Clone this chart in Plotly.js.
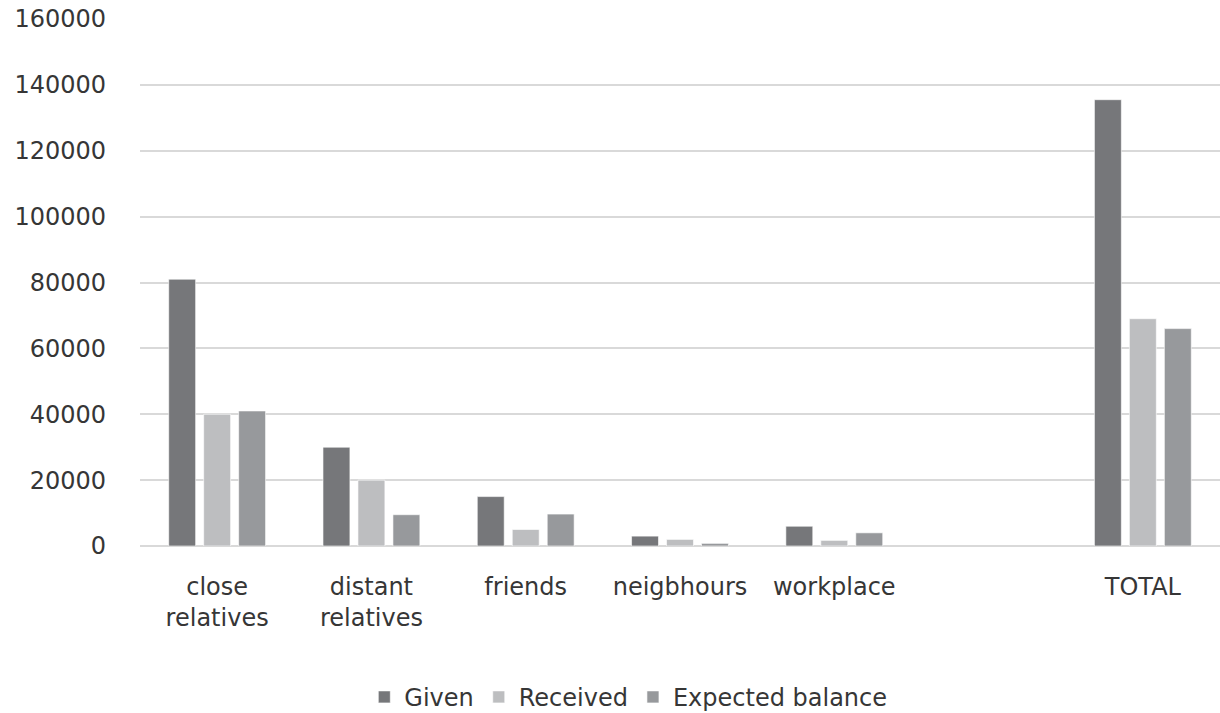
<!DOCTYPE html>
<html>
<head>
<meta charset="utf-8">
<script src="https://cdn.plot.ly/plotly-3.0.1.min.js"></script>
<style>html,body{margin:0;padding:0;background:#fff;}#chart{width:1220px;height:713px;}</style>
</head>
<body>
<div id="chart"></div>
<script>
const categories = ["close<br>relatives", "distant<br>relatives", "friends", "neigbhours", "workplace", " ", "TOTAL"];
const given = [81000, 30000, 15000, 3000, 6000, null, 135500];
const received = [40000, 20000, 5000, 2000, 1700, null, 69000];
const expectedBalance = [41000, 9500, 9700, 800, 4000, null, 66000];
const yTicks = [0, 20000, 40000, 60000, 80000, 100000, 120000, 140000, 160000];

const font = {family: "DejaVu Sans, sans-serif", size: 24, color: "#363636"};
function series(name, y, color) {
  return {type: "bar", name: name, x: categories, y: y,
    marker: {color: color, line: {color: "rgba(255,255,255,0.6)", width: 1}},
    hoverinfo: "skip"};
}
const data = [
  series("Given", given, "#76777a"),
  series("Received", received, "#bdbec0"),
  series("Expected balance", expectedBalance, "#97999c")
];
const layout = {
  width: 1220, height: 713,
  margin: {l: 140, r: 0, t: 19, b: 167},
  paper_bgcolor: "#fff", plot_bgcolor: "#fff",
  font: font,
  barmode: "group", bargap: 0.32, bargroupgap: 0.23,
  showlegend: true,
  legend: {orientation: "h", xref: "container", yref: "container", x: 0.515, y: 0.022,
    xanchor: "center", yanchor: "middle", font: font, itemwidth: 30, traceorder: "normal"},
  xaxis: {type: "category", showgrid: false, showline: false, zeroline: false,
    ticks: "", tickfont: font, ticklabelstandoff: 24, fixedrange: true},
  yaxis: {range: [0, 160000], tickvals: yTicks, ticktext: yTicks.map(String),
    showgrid: true, gridcolor: "#d9d9d9", gridwidth: 2, zeroline: true, zerolinecolor: "#d9d9d9",
    zerolinewidth: 2, showline: false, ticks: "", tickfont: font, ticklabelstandoff: 33, fixedrange: true}
};
Plotly.newPlot("chart", data, layout, {displayModeBar: false, staticPlot: true});
</script>
</body>
</html>
